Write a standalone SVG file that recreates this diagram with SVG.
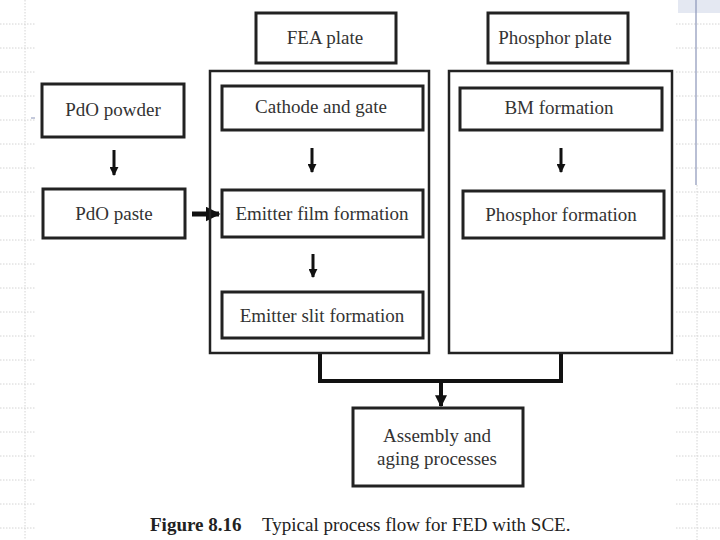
<svg xmlns="http://www.w3.org/2000/svg" width="720" height="540" viewBox="0 0 720 540">
<defs>
<style>
.bg{stroke:#d4d4d4;stroke-width:1;stroke-dasharray:1.5 1.5;fill:none}
.box{fill:#fff;stroke:#222;stroke-width:3}
.cont{fill:none;stroke:#222;stroke-width:2.5}
.t{font-family:"Liberation Serif","Times New Roman",serif;font-size:19px;fill:#333;text-anchor:middle}
.cap{font-family:"Liberation Serif","Times New Roman",serif;font-size:19px;fill:#222}
.arr{stroke:#111;stroke-width:3;fill:none}
.thick{stroke:#111;stroke-width:4;fill:none}
</style>
<marker id="ah" viewBox="0 0 10 10" refX="9" refY="5" markerWidth="3" markerHeight="3" orient="auto" markerUnits="strokeWidth">
<path d="M0,0 L10,5 L0,10 z" fill="#111"/>
</marker>
</defs>
<rect width="720" height="540" fill="#fff"/>
<g id="background">
<path class="bg" d="M25,0 V540"/>
<path class="bg" d="M0,24 H36 M0,48 H36 M0,72 H36 M0,96 H36 M0,120 H36 M0,144 H36 M0,168 H36 M0,192 H36 M0,216 H36 M0,240 H36 M0,264 H36 M0,288 H36 M0,312 H36 M0,336 H36 M0,360 H36 M0,384 H36 M0,408 H36 M0,432 H36 M0,456 H36 M0,480 H36 M0,504 H36 M0,528 H36"/>
<path class="bg" d="M697,185 V540"/>
<path class="bg" d="M676,24 H720 M676,48 H720 M676,72 H720 M676,96 H720 M676,120 H720 M676,144 H720 M676,168 H720 M676,192 H720 M676,216 H720 M676,240 H720 M676,264 H720 M676,288 H720 M676,312 H720 M676,336 H720 M676,360 H720 M676,384 H720 M676,408 H720 M676,432 H720 M676,456 H720 M676,480 H720 M676,504 H720 M676,528 H720"/>
<rect x="678" y="0" width="42" height="13" fill="#e4e8f2"/>
<line x1="696" y1="0" x2="696" y2="185" stroke="#8a94b8" stroke-width="1.2"/>
<line x1="31" y1="118" x2="35" y2="118" stroke="#8a94b8" stroke-width="1"/>
</g>
<g id="connectors">
<line class="arr" x1="114" y1="150" x2="114" y2="175" marker-end="url(#ah)"/>
<line class="arr" x1="312" y1="148" x2="312" y2="172" marker-end="url(#ah)"/>
<line class="arr" x1="313" y1="254" x2="313" y2="277" marker-end="url(#ah)"/>
<line class="arr" x1="561" y1="148" x2="561" y2="172" marker-end="url(#ah)"/>
<line x1="192" y1="214" x2="219" y2="214" stroke="#111" stroke-width="5" marker-end="url(#ah)"/>
<path class="thick" d="M320,353 V381 H561 V353"/>
<line class="thick" x1="441" y1="381" x2="441" y2="406" marker-end="url(#ah)"/>
</g>
<g id="fea-container"><rect class="cont" x="210" y="71" width="219" height="282"/></g>
<g id="phosphor-container"><rect class="cont" x="449" y="71" width="223" height="282"/></g>
<g id="fea-plate"><rect class="box" x="256" y="13" width="140" height="50"/><text class="t" x="325" y="44">FEA plate</text></g>
<g id="phosphor-plate"><rect class="box" x="488" y="13" width="140" height="50"/><text class="t" x="555" y="44">Phosphor plate</text></g>
<g id="pdo-powder"><rect class="box" x="42" y="84" width="142" height="53"/><text class="t" x="113" y="116">PdO powder</text></g>
<g id="pdo-paste"><rect class="box" x="43" y="189" width="142" height="49"/><text class="t" x="114" y="220">PdO paste</text></g>
<g id="cathode-gate"><rect class="box" x="222" y="86" width="201" height="44"/><text class="t" x="321" y="113">Cathode and gate</text></g>
<g id="emitter-film"><rect class="box" x="222" y="190" width="201" height="47"/><text class="t" x="322" y="220">Emitter film formation</text></g>
<g id="emitter-slit"><rect class="box" x="222" y="292" width="201" height="46"/><text class="t" x="322" y="322">Emitter slit formation</text></g>
<g id="bm-formation"><rect class="box" x="460" y="88" width="202" height="42"/><text class="t" x="559" y="114">BM formation</text></g>
<g id="phosphor-formation"><rect class="box" x="463" y="191" width="201" height="47"/><text class="t" x="561" y="221">Phosphor formation</text></g>
<g id="assembly"><rect class="box" x="353" y="408" width="170" height="78"/><text class="t" x="437" y="442">Assembly and</text><text class="t" x="437" y="465">aging processes</text></g>
<g id="caption"><text class="cap" x="150" y="531"><tspan font-weight="bold">Figure 8.16</tspan><tspan x="262">Typical process flow for FED with SCE.</tspan></text></g>
</svg>
